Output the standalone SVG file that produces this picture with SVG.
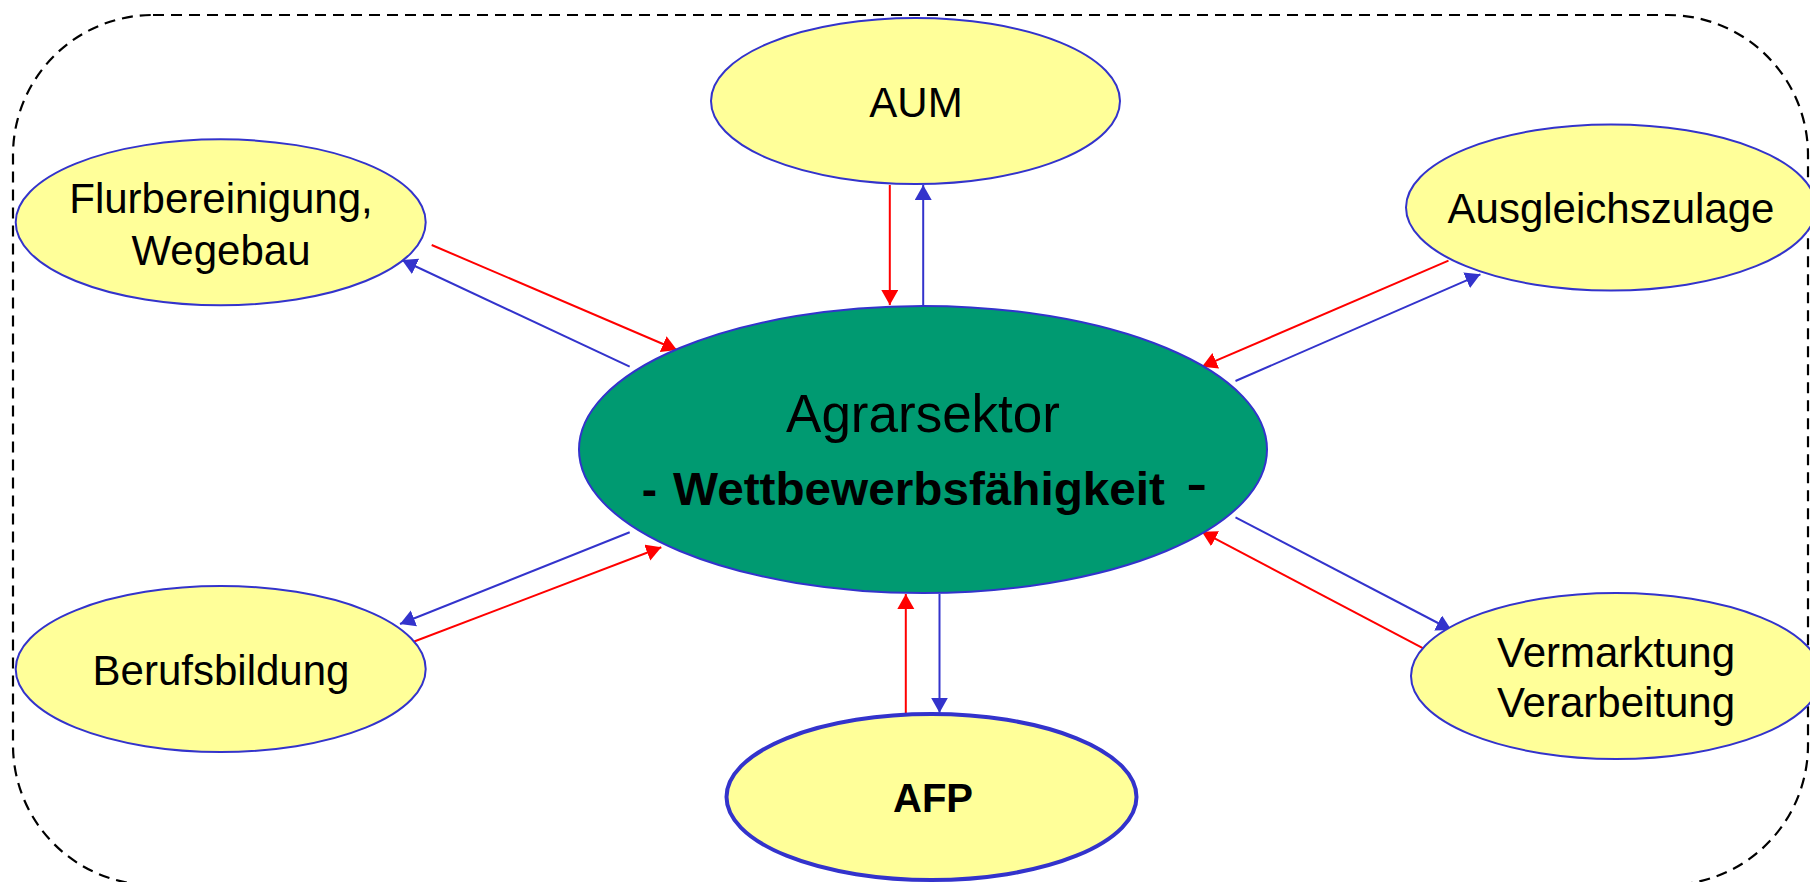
<svg xmlns="http://www.w3.org/2000/svg" width="1810" height="882" viewBox="0 0 1810 882">
  <style>
    .node { fill: #FFFF99; stroke: #3333CC; stroke-width: 2; }
    .node.thick { stroke-width: 4; }
    .core { fill: #009A71; stroke: #3333CC; stroke-width: 2; }
    .lbl { font-family: "Liberation Sans", Arial, sans-serif; font-size: 42px; fill: #000; text-anchor: middle; }
    .red { stroke: #FF0000; stroke-width: 2; fill: none; marker-end: url(#headRed); }
    .blue { stroke: #3333CC; stroke-width: 2; fill: none; marker-end: url(#headBlue); }
  </style>
  <defs>
    <marker id="headRed" markerUnits="userSpaceOnUse" markerWidth="16" markerHeight="18" refX="15" refY="8.5" orient="auto">
      <path d="M0,0 L15,8.5 L0,17 z" fill="#FF0000"/>
    </marker>
    <marker id="headBlue" markerUnits="userSpaceOnUse" markerWidth="16" markerHeight="18" refX="15" refY="8.5" orient="auto">
      <path d="M0,0 L15,8.5 L0,17 z" fill="#3333CC"/>
    </marker>
  </defs>

  <rect x="0" y="0" width="1810" height="882" fill="#FFFFFF"/>

  <!-- dashed frame -->
  <rect id="frame" x="13" y="15" width="1795" height="870" rx="140" ry="140" fill="none" stroke="#000" stroke-width="2.2" stroke-dasharray="11 7"/>

  <!-- connectors -->
  <g id="connectors">
    <line class="red" x1="431.7" y1="245" x2="677" y2="350"/>
    <line class="blue" x1="629.7" y1="366.7" x2="402" y2="260"/>
    <line class="red" x1="889.8" y1="185" x2="889.8" y2="305"/>
    <line class="blue" x1="923.2" y1="305" x2="923.2" y2="185"/>
    <line class="red" x1="1448.5" y1="260.7" x2="1202" y2="366.7"/>
    <line class="blue" x1="1235.5" y1="381" x2="1480.4" y2="274.3"/>
    <line class="blue" x1="629.7" y1="532.3" x2="400" y2="624"/>
    <line class="red" x1="412.2" y1="642.3" x2="661.3" y2="547.3"/>
    <line class="red" x1="905.8" y1="714" x2="905.8" y2="594"/>
    <line class="blue" x1="939.5" y1="594" x2="939.5" y2="712.7"/>
    <line class="blue" x1="1235.5" y1="517.3" x2="1451.4" y2="630"/>
    <line class="red" x1="1425.2" y1="649.3" x2="1201.8" y2="531.7"/>
  </g>

  <g id="aum">
    <ellipse class="node" cx="915.5" cy="101" rx="204.5" ry="83"/>
    <text class="lbl" x="916" y="116.7">AUM</text>
  </g>

  <g id="flurbereinigung">
    <ellipse class="node" cx="220.7" cy="222.3" rx="205" ry="83"/>
    <text class="lbl" x="221" y="213">Flurbereinigung,</text>
    <text class="lbl" x="221" y="265">Wegebau</text>
  </g>

  <g id="ausgleichszulage">
    <ellipse class="node" cx="1611" cy="207.5" rx="205" ry="83"/>
    <text class="lbl" x="1611" y="222.7">Ausgleichszulage</text>
  </g>

  <g id="berufsbildung">
    <ellipse class="node" cx="220.7" cy="669" rx="205" ry="83"/>
    <text class="lbl" x="221" y="685">Berufsbildung</text>
  </g>

  <g id="vermarktung">
    <ellipse class="node" cx="1616" cy="676" rx="205" ry="83"/>
    <text class="lbl" x="1616" y="666.7">Vermarktung</text>
    <text class="lbl" x="1616" y="716.7">Verarbeitung</text>
  </g>

  <g id="afp">
    <ellipse class="node thick" cx="931.5" cy="797" rx="205" ry="83"/>
    <text class="lbl" x="933" y="811.7" style="font-size:40px;font-weight:bold">AFP</text>
  </g>

  <g id="agrarsektor">
    <ellipse class="core" cx="923" cy="449.5" rx="344" ry="143.5"/>
    <text class="lbl" x="923" y="431.7" style="font-size:53px">Agrarsektor</text>
    <text x="641.7" y="505" font-family="Liberation Sans, Arial, sans-serif" font-size="46" font-weight="bold" fill="#000">-</text>
    <text x="673" y="505" font-family="Liberation Sans, Arial, sans-serif" font-size="46" font-weight="bold" fill="#000" textLength="492" lengthAdjust="spacingAndGlyphs">Wettbewerbsfähigkeit</text>
    <text x="1186" y="505" font-family="Liberation Sans, Arial, sans-serif" font-size="64" fill="#000">-</text>
  </g>
</svg>
